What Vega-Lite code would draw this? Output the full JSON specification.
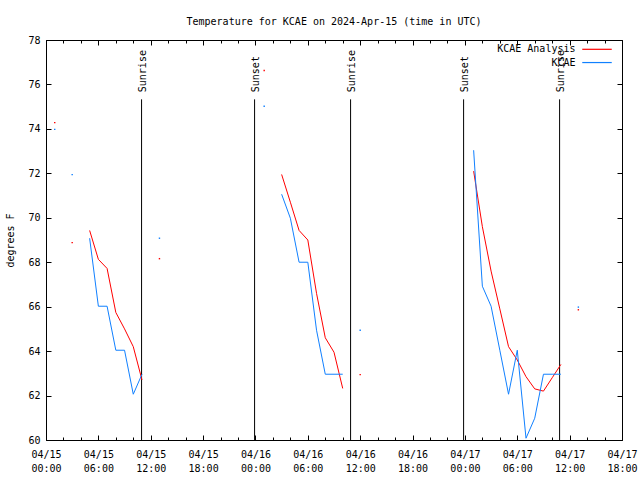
{
  "$schema": "https://vega.github.io/schema/vega-lite/v6.json",
  "autosize": {"type": "none"},
  "width": 576,
  "height": 400,
  "padding": {"left": 46, "top": 40, "right": 18, "bottom": 40},
  "background": "white",
  "title": {"text": "Temperature for KCAE on 2024-Apr-15 (time in UTC)", "anchor": "middle", "font": "DejaVu Sans Mono", "fontSize": 10, "fontWeight": "normal", "color": "black", "offset": 8},
  "datasets": {
    "temps": [
      {"t": "2024-04-15T01:00:00Z", "series": "KCAE Analysis", "temp": 74.28, "seg": 1},
      {"t": "2024-04-15T03:00:00Z", "series": "KCAE Analysis", "temp": 68.88, "seg": 2},
      {"t": "2024-04-15T05:00:00Z", "series": "KCAE Analysis", "temp": 69.43, "seg": 3},
      {"t": "2024-04-15T06:00:00Z", "series": "KCAE Analysis", "temp": 68.13, "seg": 3},
      {"t": "2024-04-15T07:00:00Z", "series": "KCAE Analysis", "temp": 67.72, "seg": 3},
      {"t": "2024-04-15T08:00:00Z", "series": "KCAE Analysis", "temp": 65.74, "seg": 3},
      {"t": "2024-04-15T09:00:00Z", "series": "KCAE Analysis", "temp": 65.0, "seg": 3},
      {"t": "2024-04-15T10:00:00Z", "series": "KCAE Analysis", "temp": 64.2, "seg": 3},
      {"t": "2024-04-15T11:00:00Z", "series": "KCAE Analysis", "temp": 62.7, "seg": 3},
      {"t": "2024-04-15T13:00:00Z", "series": "KCAE Analysis", "temp": 68.16, "seg": 4},
      {"t": "2024-04-16T01:00:00Z", "series": "KCAE Analysis", "temp": 76.63, "seg": 5},
      {"t": "2024-04-16T03:00:00Z", "series": "KCAE Analysis", "temp": 71.95, "seg": 6},
      {"t": "2024-04-16T04:00:00Z", "series": "KCAE Analysis", "temp": 70.7, "seg": 6},
      {"t": "2024-04-16T05:00:00Z", "series": "KCAE Analysis", "temp": 69.43, "seg": 6},
      {"t": "2024-04-16T06:00:00Z", "series": "KCAE Analysis", "temp": 69.0, "seg": 6},
      {"t": "2024-04-16T07:00:00Z", "series": "KCAE Analysis", "temp": 66.6, "seg": 6},
      {"t": "2024-04-16T08:00:00Z", "series": "KCAE Analysis", "temp": 64.6, "seg": 6},
      {"t": "2024-04-16T09:00:00Z", "series": "KCAE Analysis", "temp": 63.95, "seg": 6},
      {"t": "2024-04-16T10:00:00Z", "series": "KCAE Analysis", "temp": 62.32, "seg": 6},
      {"t": "2024-04-16T12:00:00Z", "series": "KCAE Analysis", "temp": 62.94, "seg": 7},
      {"t": "2024-04-17T01:00:00Z", "series": "KCAE Analysis", "temp": 72.1, "seg": 8},
      {"t": "2024-04-17T02:00:00Z", "series": "KCAE Analysis", "temp": 69.6, "seg": 8},
      {"t": "2024-04-17T03:00:00Z", "series": "KCAE Analysis", "temp": 67.6, "seg": 8},
      {"t": "2024-04-17T04:00:00Z", "series": "KCAE Analysis", "temp": 65.9, "seg": 8},
      {"t": "2024-04-17T05:00:00Z", "series": "KCAE Analysis", "temp": 64.2, "seg": 8},
      {"t": "2024-04-17T06:00:00Z", "series": "KCAE Analysis", "temp": 63.6, "seg": 8},
      {"t": "2024-04-17T07:00:00Z", "series": "KCAE Analysis", "temp": 62.85, "seg": 8},
      {"t": "2024-04-17T08:00:00Z", "series": "KCAE Analysis", "temp": 62.3, "seg": 8},
      {"t": "2024-04-17T09:00:00Z", "series": "KCAE Analysis", "temp": 62.2, "seg": 8},
      {"t": "2024-04-17T10:00:00Z", "series": "KCAE Analysis", "temp": 62.8, "seg": 8},
      {"t": "2024-04-17T11:00:00Z", "series": "KCAE Analysis", "temp": 63.4, "seg": 8},
      {"t": "2024-04-17T13:00:00Z", "series": "KCAE Analysis", "temp": 65.86, "seg": 9},
      {"t": "2024-04-15T01:00:00Z", "series": "KCAE", "temp": 73.98, "seg": 1},
      {"t": "2024-04-15T03:00:00Z", "series": "KCAE", "temp": 71.94, "seg": 2},
      {"t": "2024-04-15T05:00:00Z", "series": "KCAE", "temp": 69.08, "seg": 3},
      {"t": "2024-04-15T06:00:00Z", "series": "KCAE", "temp": 66.02, "seg": 3},
      {"t": "2024-04-15T07:00:00Z", "series": "KCAE", "temp": 66.02, "seg": 3},
      {"t": "2024-04-15T08:00:00Z", "series": "KCAE", "temp": 64.04, "seg": 3},
      {"t": "2024-04-15T09:00:00Z", "series": "KCAE", "temp": 64.04, "seg": 3},
      {"t": "2024-04-15T10:00:00Z", "series": "KCAE", "temp": 62.06, "seg": 3},
      {"t": "2024-04-15T11:00:00Z", "series": "KCAE", "temp": 62.96, "seg": 3},
      {"t": "2024-04-15T13:00:00Z", "series": "KCAE", "temp": 69.08, "seg": 4},
      {"t": "2024-04-16T01:00:00Z", "series": "KCAE", "temp": 75.02, "seg": 5},
      {"t": "2024-04-16T03:00:00Z", "series": "KCAE", "temp": 71.06, "seg": 6},
      {"t": "2024-04-16T04:00:00Z", "series": "KCAE", "temp": 69.98, "seg": 6},
      {"t": "2024-04-16T05:00:00Z", "series": "KCAE", "temp": 68.0, "seg": 6},
      {"t": "2024-04-16T06:00:00Z", "series": "KCAE", "temp": 68.0, "seg": 6},
      {"t": "2024-04-16T07:00:00Z", "series": "KCAE", "temp": 64.94, "seg": 6},
      {"t": "2024-04-16T08:00:00Z", "series": "KCAE", "temp": 62.96, "seg": 6},
      {"t": "2024-04-16T09:00:00Z", "series": "KCAE", "temp": 62.96, "seg": 6},
      {"t": "2024-04-16T10:00:00Z", "series": "KCAE", "temp": 62.96, "seg": 6},
      {"t": "2024-04-16T12:00:00Z", "series": "KCAE", "temp": 64.94, "seg": 7},
      {"t": "2024-04-17T01:00:00Z", "series": "KCAE", "temp": 73.04, "seg": 8},
      {"t": "2024-04-17T02:00:00Z", "series": "KCAE", "temp": 66.92, "seg": 8},
      {"t": "2024-04-17T03:00:00Z", "series": "KCAE", "temp": 66.02, "seg": 8},
      {"t": "2024-04-17T04:00:00Z", "series": "KCAE", "temp": 64.04, "seg": 8},
      {"t": "2024-04-17T05:00:00Z", "series": "KCAE", "temp": 62.06, "seg": 8},
      {"t": "2024-04-17T06:00:00Z", "series": "KCAE", "temp": 64.04, "seg": 8},
      {"t": "2024-04-17T07:00:00Z", "series": "KCAE", "temp": 60.08, "seg": 8},
      {"t": "2024-04-17T08:00:00Z", "series": "KCAE", "temp": 60.98, "seg": 8},
      {"t": "2024-04-17T09:00:00Z", "series": "KCAE", "temp": 62.96, "seg": 8},
      {"t": "2024-04-17T10:00:00Z", "series": "KCAE", "temp": 62.96, "seg": 8},
      {"t": "2024-04-17T11:00:00Z", "series": "KCAE", "temp": 62.96, "seg": 8},
      {"t": "2024-04-17T13:00:00Z", "series": "KCAE", "temp": 65.98, "seg": 9}
    ],
    "sun": [
      {"t": "2024-04-15T10:57:00Z", "event": "Sunrise"},
      {"t": "2024-04-15T23:54:00Z", "event": "Sunset"},
      {"t": "2024-04-16T10:54:00Z", "event": "Sunrise"},
      {"t": "2024-04-16T23:51:00Z", "event": "Sunset"},
      {"t": "2024-04-17T10:51:00Z", "event": "Sunrise"}
    ]
  },
  "layer": [
    {
      "data": {"name": "sun"},
      "mark": {"type": "rule", "color": "black", "strokeWidth": 1},
      "encoding": {
        "x": {"field": "t", "type": "temporal",
              "scale": {"type": "utc", "domain": [1713139200000, 1713376800000]},
              "axis": {"orient": "top", "labels": false, "title": null, "tickSize": -5,
                       "values": [1713139200000, 1713160800000, 1713182400000, 1713204000000, 1713225600000, 1713247200000, 1713268800000, 1713290400000, 1713312000000, 1713333600000, 1713355200000, 1713376800000]}},
        "y": {"datum": 75.33, "type": "quantitative",
              "scale": {"domain": [60, 78], "nice": false, "zero": false},
              "axis": {"orient": "right", "labels": false, "title": null, "tickSize": -5,
                       "values": [60, 62, 64, 66, 68, 70, 72, 74, 76, 78]}},
        "y2": {"datum": 60}
      }
    },
    {
      "data": {"name": "sun"},
      "mark": {"type": "text", "angle": 270, "align": "left", "baseline": "middle", "font": "DejaVu Sans Mono", "fontSize": 10, "color": "black", "dy": 1},
      "encoding": {
        "x": {"field": "t", "type": "temporal",
              "axis": {"orient": "bottom", "labels": false, "title": null, "tickSize": -3,
                       "values": [1713139200000, 1713146400000, 1713153600000, 1713160800000, 1713168000000, 1713175200000, 1713182400000, 1713189600000, 1713196800000, 1713204000000, 1713211200000, 1713218400000, 1713225600000, 1713232800000, 1713240000000, 1713247200000, 1713254400000, 1713261600000, 1713268800000, 1713276000000, 1713283200000, 1713290400000, 1713297600000, 1713304800000, 1713312000000, 1713319200000, 1713326400000, 1713333600000, 1713340800000, 1713348000000, 1713355200000, 1713362400000, 1713369600000, 1713376800000]}},
        "y": {"datum": 75.65, "type": "quantitative", "axis": null},
        "text": {"field": "event"}
      }
    },
    {
      "data": {"name": "temps"},
      "mark": {"type": "line", "strokeWidth": 1},
      "encoding": {
        "x": {"field": "t", "type": "temporal",
              "axis": {"orient": "bottom", "title": null, "tickSize": -5, "labelPadding": 14,
                       "labelExpr": "[utcFormat(datum.value, '%m/%d'), utcFormat(datum.value, '%H:%M')]",
                       "labelLineHeight": 14, "labelFlush": false, "labelOverlap": false, "labelBound": false,
                       "values": [1713139200000, 1713160800000, 1713182400000, 1713204000000, 1713225600000, 1713247200000, 1713268800000, 1713290400000, 1713312000000, 1713333600000, 1713355200000, 1713376800000]}},
        "y": {"field": "temp", "type": "quantitative",
              "axis": {"orient": "left", "title": "degrees F", "tickSize": -5, "labelPadding": 11, "titlePadding": 12,
                       "values": [60, 62, 64, 66, 68, 70, 72, 74, 76, 78]}},
        "color": {"field": "series", "type": "nominal",
                  "scale": {"domain": ["KCAE Analysis", "KCAE"], "range": ["#ff0000", "#1080ff"]},
                  "legend": {"title": null, "orient": "none", "legendX": 535.5, "legendY": 2.8, "padding": 0,
                             "symbolType": "stroke", "symbolSize": 870, "symbolStrokeWidth": 1.2,
                             "rowPadding": 1.25,
                             "labelAlign": "right", "labelOffset": -37,
                             "labelFont": "DejaVu Sans Mono", "labelFontSize": 10, "labelColor": "black",
                             "encode": {"symbols": {"update": {"y": {"value": 6.5}}},
                                        "labels": {"update": {"y": {"value": 6.5}}}}}},
        "detail": {"field": "seg"}
      }
    },
    {
      "data": {"name": "temps"},
      "transform": [
        {"joinaggregate": [{"op": "count", "as": "n"}], "groupby": ["series", "seg"]},
        {"filter": "datum.n == 1"}
      ],
      "mark": {"type": "square", "size": 2, "opacity": 1, "filled": true},
      "encoding": {
        "x": {"field": "t", "type": "temporal",
              "axis": {"orient": "top", "labels": false, "title": null, "tickSize": -3,
                       "values": [1713139200000, 1713146400000, 1713153600000, 1713160800000, 1713168000000, 1713175200000, 1713182400000, 1713189600000, 1713196800000, 1713204000000, 1713211200000, 1713218400000, 1713225600000, 1713232800000, 1713240000000, 1713247200000, 1713254400000, 1713261600000, 1713268800000, 1713276000000, 1713283200000, 1713290400000, 1713297600000, 1713304800000, 1713312000000, 1713319200000, 1713326400000, 1713333600000, 1713340800000, 1713348000000, 1713355200000, 1713362400000, 1713369600000, 1713376800000]}},
        "y": {"field": "temp", "type": "quantitative", "axis": null},
        "color": {"field": "series", "type": "nominal", "legend": null}
      }
    }
  ],
  "resolve": {"axis": {"x": "independent", "y": "independent"}},
  "config": {
    "view": {"stroke": "black", "strokeWidth": 1},
    "axis": {"domain": false, "grid": false, "tickColor": "black", "tickWidth": 1,
             "labelColor": "black", "labelFont": "DejaVu Sans Mono", "labelFontSize": 10,
             "titleColor": "black", "titleFont": "DejaVu Sans Mono", "titleFontSize": 10, "titleFontWeight": "normal"}
  }
}
